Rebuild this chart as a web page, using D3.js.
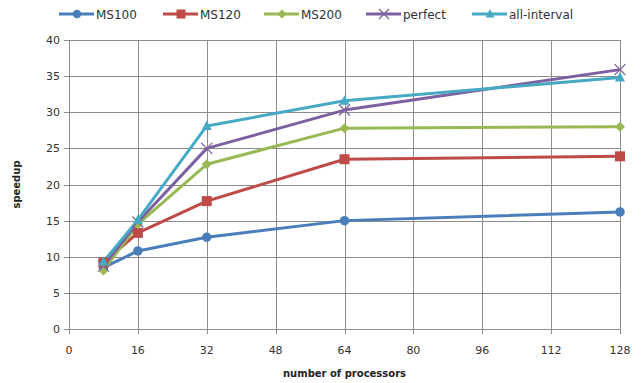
<!DOCTYPE html>
<html>
<head>
<meta charset="utf-8">
<script src="https://cdn.jsdelivr.net/npm/d3@7"></script>
<style>
  body { margin: 0; background: #fff; }
  svg { display: block; font-family: "DejaVu Sans", Verdana, sans-serif; }
</style>
</head>
<body>
<svg id="chart" width="644" height="383"></svg>
<script>
// processors on the x axis
const processors = [8, 16, 32, 64, 128];
const xTicks = [0, 16, 32, 48, 64, 80, 96, 112, 128];
const yTicks = [0, 5, 10, 15, 20, 25, 30, 35, 40];

const ms100 = [8.5, 10.8, 12.7, 15.0, 16.2];
const ms120 = [9.2, 13.3, 17.7, 23.5, 23.9];
const ms200 = [8.1, 14.5, 22.8, 27.8, 28.0];
const perfect = [8.7, 14.8, 25.0, 30.3, 35.9];
const allInterval = [9.3, 15.1, 28.1, 31.6, 34.8];

const seriesNames = ["MS100", "MS120", "MS200", "perfect", "all-interval"];
const seriesColors = ["#4a7ebb", "#be4b48", "#98b954", "#7d60a0", "#46aac5"];
const seriesShapes = ["circle", "square", "diamond", "cross", "triangle"];

const series = [ms100, ms120, ms200, perfect, allInterval].map((vals, i) => ({
  name: seriesNames[i], color: seriesColors[i], shape: seriesShapes[i],
  points: vals.map((v, j) => [processors[j], v])
}));

const svg = d3.select("#chart");
const margin = {left: 69, right: 24, top: 40, bottom: 54};
const W = 644, H = 383;

const x = d3.scaleLinear().domain([0, 128]).range([margin.left, W - margin.right]);
const y = d3.scaleLinear().domain([0, 40]).range([H - margin.bottom, margin.top]);

// ! GRID
const grid = svg.append("g").attr("stroke", "#8c8c8c").attr("stroke-width", 1);
grid.selectAll(".h").data(yTicks).join("line")
  .attr("x1", margin.left - 5).attr("x2", W - margin.right)
  .attr("y1", d => Math.round(y(d)) + 0.5).attr("y2", d => Math.round(y(d)) + 0.5);
grid.selectAll(".v").data(xTicks).join("line")
  .attr("x1", d => Math.round(x(d)) + 0.5).attr("x2", d => Math.round(x(d)) + 0.5)
  .attr("y1", margin.top).attr("y2", H - margin.bottom + 5);

// ! AXES LABELS
svg.append("g").selectAll("text").data(yTicks).join("text")
  .attr("x", margin.left - 9).attr("y", d => y(d) + 4)
  .attr("text-anchor", "end").attr("font-size", 11).attr("fill", "#333")
  .text(d => d);
svg.append("g").selectAll("text").data(xTicks).join("text")
  .attr("x", d => x(d)).attr("y", H - margin.bottom + 25)
  .attr("text-anchor", "middle").attr("font-size", 11).attr("fill", "#333")
  .text(d => d);

svg.append("text").attr("x", x(64)).attr("y", 377)
  .attr("text-anchor", "middle").attr("font-size", 10).attr("font-weight", "bold")
  .attr("fill", "#222").text("number of processors");
svg.append("text").attr("transform", `translate(20,${y(20)}) rotate(-90)`)
  .attr("text-anchor", "middle").attr("font-size", 10).attr("font-weight", "bold")
  .attr("fill", "#222").text("speedup");

// ! MARKERS
function drawMarker(g, shape, color, s) {
  if (shape === "circle") g.append("circle").attr("r", s * 0.95).attr("fill", color);
  else if (shape === "square") g.append("rect").attr("x", -s).attr("y", -s).attr("width", 2 * s).attr("height", 2 * s).attr("fill", color);
  else if (shape === "diamond") g.append("path").attr("d", `M0,${-s}L${s},0L0,${s}L${-s},0Z`).attr("fill", color);
  else if (shape === "triangle") g.append("path").attr("d", `M0,${-s * 1.1}L${s},${s * 0.8}L${-s},${s * 0.8}Z`).attr("fill", color);
  else if (shape === "cross") g.append("path").attr("d", `M${-s},${-s}L${s},${s}M${s},${-s}L${-s},${s}`).attr("stroke", color).attr("stroke-width", 1.3).attr("fill", "none");
}

const line = d3.line().x(d => x(d[0])).y(d => y(d[1]));
series.forEach(s => {
  svg.append("path").datum(s.points).attr("d", line)
    .attr("fill", "none").attr("stroke", s.color).attr("stroke-width", 3)
    .attr("stroke-linejoin", "round");
});
series.forEach(s => {
  s.points.forEach(p => {
    const g = svg.append("g").attr("transform", `translate(${x(p[0])},${y(p[1])})`);
    drawMarker(g, s.shape, s.color, s.shape === "cross" ? 5.5 : 5);
  });
});

// ! LEGEND
const legendX = [59, 163, 264, 366, 472];
series.forEach((s, i) => {
  const g = svg.append("g").attr("transform", `translate(${legendX[i]},14)`);
  g.append("line").attr("x1", 0).attr("x2", 35).attr("stroke", s.color).attr("stroke-width", 3);
  const m = g.append("g").attr("transform", "translate(18,0)");
  drawMarker(m, s.shape, s.color, s.shape === "cross" ? 5 : 4.5);
  g.append("text").attr("x", 37).attr("y", 4.5).attr("font-size", 12).attr("fill", "#333").text(s.name);
});
</script>
</body>
</html>
